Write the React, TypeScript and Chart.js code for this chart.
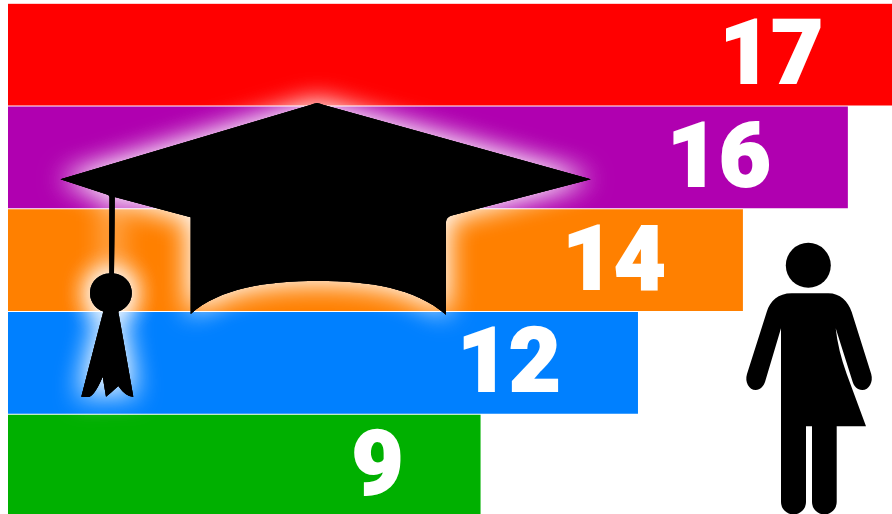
import React, { useEffect, useRef } from "react";
import { Chart, registerables } from "chart.js";

Chart.register(...registerables);

const categories = ["A", "B", "C", "D", "E"];
const seriesValues = [17, 16, 14, 12, 9];
const barColors = ["#ff0000", "#b000b0", "#ff8000", "#0080ff", "#00b000"];
const axisMax = 17;

const capPath =
  "M317 103 Q318 103 322 104.5 L590.7 179.3 L451.7 215.5 Q446 217 446 222 L446 314.7 " +
  "C415 288 370 281 318 281 C266 281 220 288 190.7 314 L190.7 217.3 L114.7 197 L114 273.5 " +
  "A19.5 19.5 0 0 1 118.3 311.5 L133.3 396.7 Q126 397 118.3 386 Q112 392 106 396.7 L102.7 376.7 " +
  "Q94 397 88 397 L81.3 396.7 L103.3 311.5 A19.5 19.5 0 0 1 109.3 273.5 L109.5 197 Q109.5 195 107 194.5 " +
  "L60.5 179.3 L312 104.5 Q316 103 317 103 Z";

const personPath =
  "M791.7 293.3 L828.3 293.3 C840 293.3 848 301 851.7 312 L871.2 374 C873.5 382 869 390 862.3 390 " +
  "C857 390 854 386 852.7 382 L835.7 328.3 Q838 350 846.7 374 L866 426.3 L836.7 426.3 L836.7 502 " +
  "A12.35 12.35 0 0 1 812 502 L812 426.3 L806 426.3 L806 502 A12.5 12.5 0 0 1 781 502 L781 328.3 " +
  "L765 382 C763.5 386 760.5 390 755.7 390 C749 390 744.5 382 747 374 L766.7 312 C770 301 778 293.3 791.7 293.3 Z";

const valueLabels = {
  id: "valueLabels",
  afterDatasetsDraw(chart: any) {
    const ctx = chart.ctx;
    const meta = chart.getDatasetMeta(0);
    ctx.save();
    ctx.fillStyle = "#ffffff";
    ctx.strokeStyle = "#ffffff";
    ctx.lineWidth = 2;
    ctx.lineJoin = "miter";
    ctx.font = "900 89px Roboto, 'Liberation Sans', Arial, sans-serif";
    ctx.textAlign = "right";
    ctx.textBaseline = "alphabetic";
    meta.data.forEach((bar: any, i: number) => {
      ctx.fillText(String(seriesValues[i]), bar.x - 77, bar.y + 28.5);
      ctx.strokeText(String(seriesValues[i]), bar.x - 77, bar.y + 28.5);
    });
    ctx.restore();
  },
};

const icons = {
  id: "icons",
  afterDraw(chart: any) {
    const ctx = chart.ctx;
    ctx.save();
    const cap = new Path2D(capPath);
    const ball = new Path2D();
    ball.arc(111, 293.3, 19.5, 0, Math.PI * 2);
    ctx.fillStyle = "#000000";
    ctx.shadowColor = "#ffffff";
    ctx.shadowBlur = 28;
    ctx.fill(cap);
    ctx.fill(ball);
    ctx.shadowColor = "rgba(255,255,255,0.5)";
    ctx.fill(cap);
    ctx.fill(ball);
    ctx.shadowBlur = 0;
    ctx.shadowColor = "transparent";
    ctx.fill(cap);
    ctx.fill(ball);
    const person = new Path2D(personPath);
    ctx.fill(person);
    ctx.beginPath();
    ctx.arc(808.3, 265.3, 22.5, 0, Math.PI * 2);
    ctx.fill();
    ctx.restore();
  },
};

export default function App() {
  const ref = useRef<HTMLCanvasElement>(null);
  useEffect(() => {
    const chart = new Chart(ref.current as HTMLCanvasElement, {
      type: "bar",
      data: {
        labels: categories,
        datasets: [
          {
            data: seriesValues,
            backgroundColor: barColors,
            borderWidth: 0,
            barThickness: 101,
          },
        ],
      },
      options: {
        indexAxis: "y",
        animation: false,
        responsive: false,
        devicePixelRatio: 1,
        layout: { padding: { left: 8, top: 3.3, right: 0, bottom: 0 } },
        scales: {
          x: { display: false, min: 0, max: axisMax },
          y: { display: false },
        },
        plugins: {
          legend: { display: false },
          tooltip: { enabled: false },
        },
      },
      plugins: [valueLabels, icons],
    } as any);
    return () => chart.destroy();
  }, []);
  return (
    <div
      style={{
        position: "fixed",
        left: 0,
        top: 0,
        width: 892,
        height: 514,
        overflow: "hidden",
        background: "#ffffff",
      }}
    >
      <canvas ref={ref} width={900} height={517} style={{ display: "block" }} />
    </div>
  );
}
